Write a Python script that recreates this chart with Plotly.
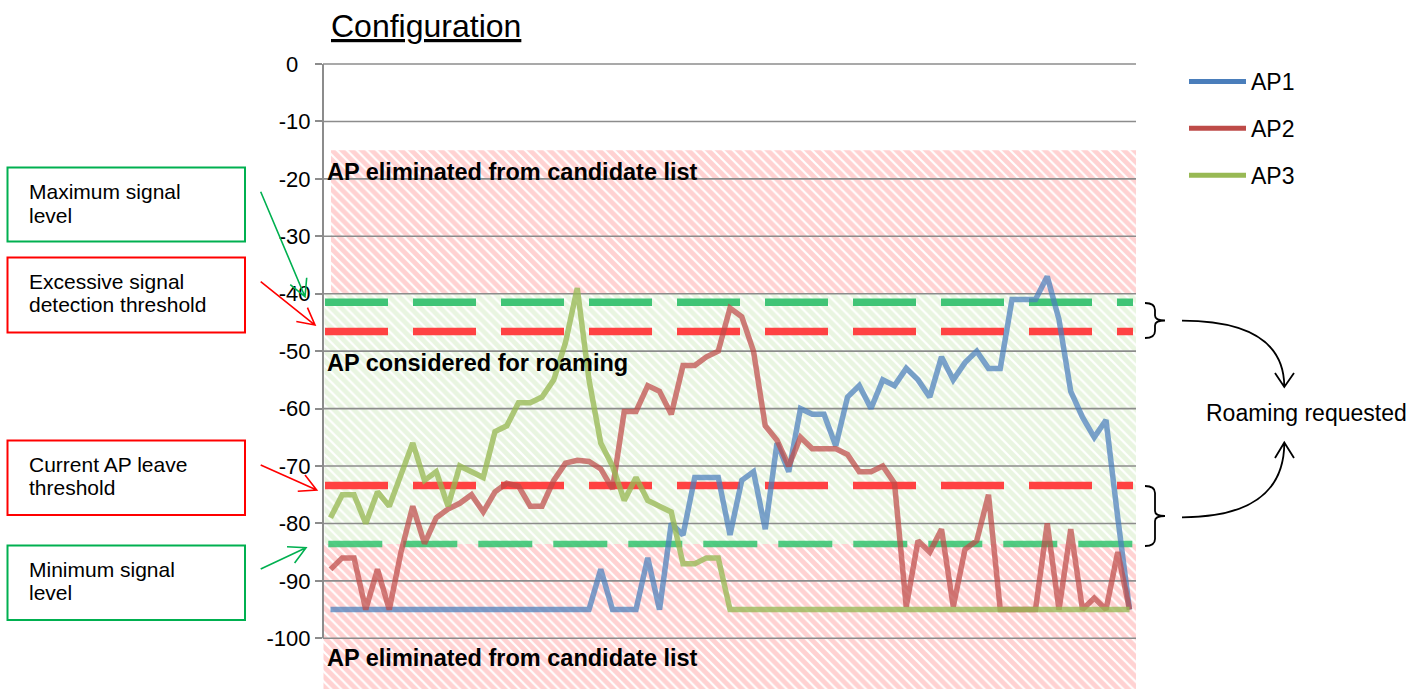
import math
import plotly.graph_objects as go

# ---------------- data ----------------
samples = list(range(69))

ap1 = [-95] * 23 + [-88, -95, -95, -95, -86, -95, -80, -82, -72, -72, -72, -82, -72.5, -71,
                    -81, -66, -71, -60, -61, -61, -66.5, -58, -56, -60, -55, -56, -53, -55, -58,
                    -51, -55, -52, -50, -53, -53, -41, -41, -41, -37, -44.5, -57, -61.5, -65,
                    -62, -79, -95]

ap2 = [-88, -86, -86, -95, -88, -95, -85, -77, -83.5, -79, -77.5, -76.5, -75, -78, -74.5,
       -73, -73.5, -77, -77, -72.5, -69.5, -69, -69.2, -70.5, -74, -60.5, -60.5, -56, -57,
       -61, -52.5, -52.5, -51, -50, -42.5, -44, -50, -63, -65.5, -70, -65, -67, -67, -67,
       -68, -71, -71, -70, -73, -94.5, -83, -85, -81, -94.5, -84.5, -83, -75, -95, -95, -95,
       -95, -80, -95, -81, -95, -93, -95, -85, -95]

ap3 = [-79, -75, -75, -80, -74.5, -77, -71.5, -66, -72.5, -71, -77, -70, -71, -72, -64, -63,
       -59, -59, -58, -55, -48.5, -39, -55, -66, -70, -76, -72, -76, -77, -78, -87, -87, -86,
       -86] + [-95] * 35

series_names = ["AP1", "AP2", "AP3"]

# thresholds (dBm)
max_signal = -41.5
excessive_signal = -46.6
leave_threshold = -73.4
min_signal = -83.6
eliminated_top = -15
considered_top = -40

tick_values = [0, -10, -20, -30, -40, -50, -60, -70, -80, -90, -100]
tick_labels = ["0\u2007", "-10", "-20", "-30", "-40", "-50", "-60", "-70", "-80", "-90", "-100"]

# ---------------- geometry ----------------
W, H = 1427, 689
ML, MR, MT, MB = 323, 291, 62, 0
PW, PH = W - ML - MR, H - MT - MB
X0_PX, DX_PX = 330.5, 11.75           # pixel of first sample, px per sample
Y0_PX, DY_PX = 64.0, 5.743            # pixel of 0 dBm, px per dB

xr = [(ML - X0_PX) / DX_PX, (W - MR - X0_PX) / DX_PX]
yr = [(Y0_PX - H) / DY_PX, (Y0_PX - MT) / DY_PX]


def xd(px):
    return (px - X0_PX) / DX_PX


def X(px):
    return (px - ML) / PW


def Y(py):
    return (H - MB - py) / PH


def P(px, py):
    return f"{X(px):.5f},{Y(py):.5f}"


FONT = "Liberation Sans, Arial, sans-serif"
fig = go.Figure()

# ---------------- hatched zones ----------------
pink = dict(shape="\\", size=7, solidity=0.7, fgcolor="rgb(255,165,165)", bgcolor="white")
green = dict(shape="\\", size=7, solidity=0.7, fgcolor="rgb(212,236,195)", bgcolor="white")


def zone(x0, x1, y0, y1, pat):
    fig.add_trace(go.Scatter(x=[x0, x1, x1, x0, x0], y=[y0, y0, y1, y1, y0], mode="lines",
                             line=dict(width=0), fill="toself", fillcolor="white",
                             fillpattern=pat, showlegend=False, hoverinfo="skip"))


zone(xd(331), xr[1], considered_top, eliminated_top, pink)
zone(xd(324.5), xr[1], min_signal, considered_top, green)
zone(xd(323.5), xr[1], yr[0], min_signal, pink)

# ---------------- gridlines (above the hatching) ----------------
gx, gy = [], []
for v in tick_values:
    gx += [xr[0], xr[1], None]
    gy += [v, v, None]
fig.add_trace(go.Scatter(x=gx, y=gy, mode="lines", line=dict(color="#8c8c8c", width=1.6),
                         showlegend=False, hoverinfo="skip"))

# ---------------- threshold dashed lines ----------------
for val, col in [(max_signal, "rgb(64,196,118)"), (excessive_signal, "rgb(255,66,66)"),
                 (leave_threshold, "rgb(255,66,66)")]:
    fig.add_trace(go.Scatter(x=[xd(325), xd(1133)], y=[val, val], mode="lines",
                             line=dict(color=col, width=7.5, dash="63px,25px"),
                             showlegend=False, hoverinfo="skip"))
fig.add_trace(go.Scatter(x=[xd(328.3), xd(1133)], y=[min_signal, min_signal], mode="lines",
                         line=dict(color="rgba(50,195,110,0.85)", width=6.5, dash="54px,21px"),
                         showlegend=False, hoverinfo="skip"))

# ---------------- data lines ----------------
full_cols = ["rgb(74,126,187)", "rgb(190,75,72)", "rgb(152,185,84)"]
line_cols = ["rgba(74,126,187,0.72)", "rgba(190,75,72,0.72)", "rgba(152,185,84,0.78)"]
for name, vals, fc, lc in zip(series_names, [ap1, ap2, ap3], full_cols, line_cols):
    fig.add_trace(go.Scatter(x=samples, y=vals, mode="lines", name=name, legendgroup=name,
                             line=dict(color=lc, width=5.5), showlegend=False))
    fig.add_trace(go.Scatter(x=[None], y=[None], mode="lines", name=name, legendgroup=name,
                             line=dict(color=fc, width=5), showlegend=True))

# ---------------- annotations ----------------
ann = []
ann.append(dict(x=X(329), y=Y(26), xref="paper", yref="paper", xanchor="left", yanchor="middle",
                text="<u>Configuration</u>", showarrow=False,
                font=dict(family=FONT, size=32, color="black")))
for txt, v in [("AP eliminated from candidate list", -18.8),
               ("AP considered for roaming", -52.1),
               ("AP eliminated from candidate list", -103.4)]:
    ann.append(dict(x=X(325), y=v, xref="paper", yref="y", xanchor="left", yanchor="middle",
                    text=f"<b>{txt}</b>", showarrow=False,
                    font=dict(family=FONT, size=23.5, color="black")))

box_lines = [("Maximum signal", 191.7), ("level", 215.0),
             ("Excessive signal", 281.0), ("detection threshold", 304.3),
             ("Current AP leave", 464.3), ("threshold", 487.7),
             ("Minimum signal", 569.0), ("level", 592.7)]
for txt, py in box_lines:
    ann.append(dict(x=X(27), y=Y(py), xref="paper", yref="paper", xanchor="left",
                    yanchor="middle", text=txt, showarrow=False,
                    font=dict(family=FONT, size=21, color="black")))

ann.append(dict(x=X(1306), y=Y(413), xref="paper", yref="paper", xanchor="center",
                yanchor="middle", text="Roaming requested", showarrow=False,
                font=dict(family=FONT, size=23, color="black")))

# ---------------- shapes ----------------
shapes = []
# y axis line
shapes.append(dict(type="line", xref="paper", yref="y", x0=0, x1=0, y0=-100, y1=0,
                   line=dict(color="#8c8c8c", width=2)))

# boxes
for (y0, y1, col) in [(167.5, 241.5, "#00b050"), (257.5, 332.5, "#ff0000"),
                      (440.5, 515.0, "#ff0000"), (545.5, 620.0, "#00b050")]:
    shapes.append(dict(type="rect", xref="paper", yref="paper", x0=X(7.5), x1=X(245),
                       y0=Y(y1), y1=Y(y0), line=dict(color=col, width=2),
                       fillcolor="rgba(0,0,0,0)"))


def arrow_path(tx, ty, hx, hy, alen=19, ang=28):
    a = math.atan2(ty - hy, tx - hx)
    pts = []
    for s in (1, -1):
        b = a + s * math.radians(ang)
        pts.append((hx + alen * math.cos(b), hy + alen * math.sin(b)))
    return (f"M{P(tx, ty)} L{P(hx, hy)} M{P(*pts[0])} L{P(hx, hy)} L{P(*pts[1])}")


for (tx, ty, hx, hy, col) in [(260.7, 191.7, 305, 296.7, "#00b050"),
                              (260.7, 281.7, 315, 325, "#ff0000"),
                              (260.7, 465, 316.7, 490, "#ff0000"),
                              (260.7, 569, 306, 547.7, "#00b050")]:
    shapes.append(dict(type="path", xref="paper", yref="paper", path=arrow_path(tx, ty, hx, hy),
                       line=dict(color=col, width=1.6)))


def brace(top, bot, xl=1145, xm=1155, xt=1165):
    mid = (top + bot) / 2
    return (f"M{P(xl, top)} Q{P(xm, top)} {P(xm, top + 7)} L{P(xm, mid - 5)} "
            f"Q{P(xm, mid)} {P(xt, mid)} Q{P(xm, mid)} {P(xm, mid + 5)} "
            f"L{P(xm, bot - 7)} Q{P(xm, bot)} {P(xl, bot)}")


for top, bot in [(303, 338), (486, 546)]:
    shapes.append(dict(type="path", xref="paper", yref="paper", path=brace(top, bot),
                       line=dict(color="black", width=1.8)))

# curved arrows to "Roaming requested"
shapes.append(dict(type="path", xref="paper", yref="paper",
                   path=f"M{P(1182, 320.7)} Q{P(1284, 321)} {P(1284.3, 386.5)} "
                        f"M{P(1275, 373)} L{P(1284.3, 387)} L{P(1294, 373)}",
                   line=dict(color="black", width=1.8)))
shapes.append(dict(type="path", xref="paper", yref="paper",
                   path=f"M{P(1182, 517.3)} Q{P(1284, 517)} {P(1284.3, 443)} "
                        f"M{P(1275, 458)} L{P(1284.3, 442.5)} L{P(1294, 458)}",
                   line=dict(color="black", width=1.8)))

fig.update_layout(
    width=W, height=H,
    margin=dict(l=ML, r=MR, t=MT, b=MB, pad=0),
    paper_bgcolor="white", plot_bgcolor="white",
    font=dict(family=FONT, size=22, color="black"),
    xaxis=dict(range=xr, showgrid=False, zeroline=False, showline=False,
               showticklabels=False, ticks="", fixedrange=True),
    yaxis=dict(range=yr, showgrid=False, zeroline=False, showline=False,
               tickmode="array", tickvals=tick_values, ticktext=tick_labels,
               ticks="outside", ticklen=7, tickwidth=1.6, tickcolor="#8c8c8c",
               tickfont=dict(family=FONT, size=22, color="black"), fixedrange=True),
    legend=dict(x=X(1184), y=Y(60), xanchor="left", yanchor="top",
                font=dict(family=FONT, size=23, color="black"), itemwidth=57,
                traceorder="grouped", tracegroupgap=14, bgcolor="rgba(0,0,0,0)"),
    annotations=ann,
    shapes=shapes,
    hovermode=False,
)

fig.write_html("out.html", config={"displayModeBar": False},
               post_script="document.body.style.margin='0';document.body.style.padding='0';"
                           "document.body.style.overflow='hidden';")
